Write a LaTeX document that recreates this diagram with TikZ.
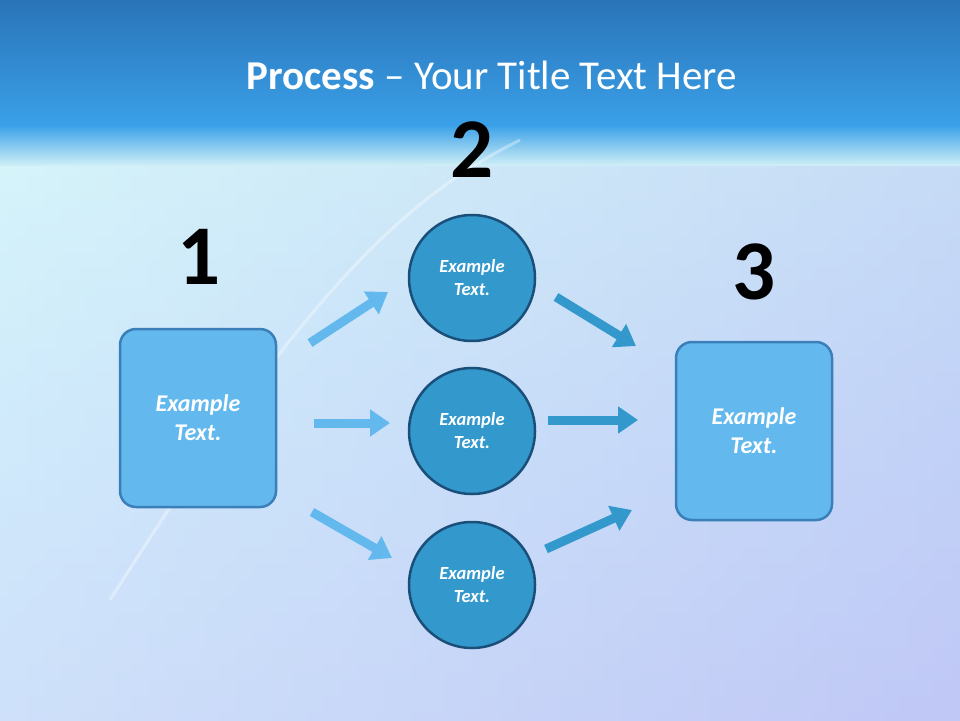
\documentclass[tikz,border=0pt]{standalone}
\usepackage{fontspec}
\setmainfont{Carlito}
\usetikzlibrary{arrows.meta}
\definecolor{boxfill}{HTML}{63B8EE}
\definecolor{boxline}{HTML}{3A7FB8}
\definecolor{circfill}{HTML}{3399CC}
\definecolor{circline}{HTML}{1A4F7A}
\definecolor{bgtop}{RGB}{205,238,246}
\definecolor{bgmid}{RGB}{195,218,248}
\definecolor{bgbot}{RGB}{192,200,246}
\begin{document}
\begin{tikzpicture}[x=1pt,y=-1pt,
  sbox/.style={draw=boxline,line width=2.5pt,fill=boxfill,rounded corners=16pt,minimum width=156pt,minimum height=178pt,text=white,font=\fontsize{24}{29}\selectfont\bfseries\itshape,align=center},
  scirc/.style={circle,draw=circline,line width=2.5pt,fill=circfill,minimum size=126pt,text=white,font=\fontsize{18.5}{23}\selectfont\bfseries\itshape,align=center},
  num/.style={font=\fontsize{85}{85}\selectfont\bfseries},
  larr/.style={draw=boxfill,line width=9pt,-{Triangle[length=20pt,width=26pt]}},
  darr/.style={draw=circfill,line width=9pt,-{Triangle[length=20pt,width=26pt]}}]
\useasboundingbox (0,0) rectangle (960,720);
\shade[top color=bgtop, bottom color=bgbot, middle color=bgmid] (0,125) rectangle (960,720);
\shade[left color=cyan!12!white, right color=bgbot, opacity=0.45] (0,125) rectangle (960,720);
\shade[top color={rgb,255:red,42;green,116;blue,184}, bottom color={rgb,255:red,58;green,160;blue,232}] (0,0) rectangle (960,125);
\shade[top color={rgb,255:red,58;green,160;blue,232}, bottom color=bgtop] (0,125) rectangle (960,165);
\draw[white,opacity=0.35,line width=3pt] (110,600) .. controls (300,300) and (400,200) .. (520,140);
\node[text=white,font=\fontsize{41}{45}\selectfont] (title) at (492,75) {\textbf{Process} -- Your Title Text Here};
\node[sbox] (b1) at (198,418) {Example\\Text.};
\node[sbox] (b3) at (754,431) {Example\\Text.};
\node[scirc] (c1) at (472,278) {Example\\Text.};
\node[scirc] (c2) at (472,431) {Example\\Text.};
\node[scirc] (c3) at (472,585) {Example\\Text.};
\node[num] (n1) at (199,257) {1};
\node[num] (n2) at (472,150) {2};
\node[num] (n3) at (754,272) {3};
\coordinate (a1s) at (310,343); \coordinate (a1e) at (388,292);
\coordinate (a2s) at (314,423); \coordinate (a2e) at (390,423);
\coordinate (a3s) at (312,512); \coordinate (a3e) at (392,558);
\coordinate (d1s) at (556,297); \coordinate (d1e) at (636,346);
\coordinate (d2s) at (548,420); \coordinate (d2e) at (638,420);
\coordinate (d3s) at (546,549); \coordinate (d3e) at (632,510);
\draw[larr] (a1s) -- (a1e);
\draw[larr] (a2s) -- (a2e);
\draw[larr] (a3s) -- (a3e);
\draw[darr] (d1s) -- (d1e);
\draw[darr] (d2s) -- (d2e);
\draw[darr] (d3s) -- (d3e);
\end{tikzpicture}
\end{document}
